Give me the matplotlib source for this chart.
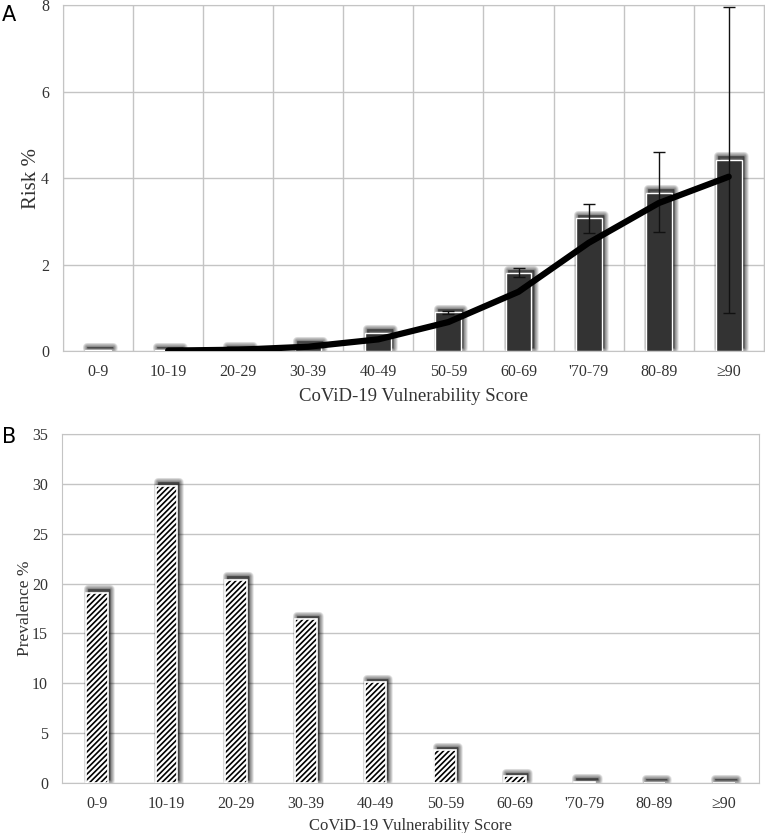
import numpy as np
import matplotlib
matplotlib.use('Agg')
import matplotlib.pyplot as plt
from matplotlib.transforms import ScaledTranslation

plt.rcParams['font.family'] = ['Liberation Serif', 'DejaVu Serif']
plt.rcParams['hatch.linewidth'] = 1.2

categories = ['0-9', '10-19', '20-29', '30-39', '40-49', '50-59', '60-69', "'70-79", '80-89', '\u226590']

# panel A: risk %
risk = [0.02, 0.02, 0.04, 0.14, 0.42, 0.9, 1.8, 3.07, 3.66, 4.42]
risk_lo = [np.nan, np.nan, np.nan, np.nan, np.nan, 0.86, 1.72, 2.72, 2.75, 0.88]
risk_hi = [np.nan, np.nan, np.nan, np.nan, np.nan, 0.93, 1.92, 3.4, 4.6, 7.95]
trend = [np.nan, 0.01, 0.03, 0.1, 0.27, 0.67, 1.37, 2.5, 3.42, 4.03]

# panel B: prevalence %
prevalence = [19.1, 29.8, 20.4, 16.4, 10.1, 3.3, 0.7, 0.15, 0.05, 0.05]

fig = plt.figure(figsize=(7.65, 8.33), dpi=100)
axA = fig.add_axes([0.0824, 0.5786, 0.916, 0.4154])
axB = fig.add_axes([0.081, 0.06, 0.911, 0.419])

x = np.arange(len(categories))
grid_c = '#c4c4c4'
txt_c = '#333333'


def shadow(ax, heights, width):
    # fake blurred drop shadow: many thin translucent bars, shifted up/right
    off = ScaledTranslation(1.5/72, 2.5/72, fig.dpi_scale_trans)
    for lw in np.linspace(6.5, 0.5, 10):
        ax.bar(x, heights, width, color='#000000', edgecolor='#000000',
               linewidth=lw, alpha=0.065, transform=ax.transData + off,
               zorder=2, joinstyle='round')


# ---- A ----
shadow(axA, risk, 0.37)
axA.bar(x, risk, 0.37, color='#333333', edgecolor='white', linewidth=1, zorder=3)
err = np.array(risk_hi) - np.array(risk_lo)
mid = (np.array(risk_hi) + np.array(risk_lo)) / 2
axA.errorbar(x, mid, yerr=err/2, fmt='none', ecolor='#111111', elinewidth=1,
             capsize=4, capthick=1, zorder=4)
axA.plot(x, trend, color='black', lw=4.5, solid_capstyle='round', zorder=5)

axA.set_xlim(-0.5, 9.5)
axA.set_ylim(0, 8)
axA.set_yticks([0, 2, 4, 6, 8])
axA.set_xticks(x)
axA.set_xticklabels(categories)
axA.set_xticks(np.arange(-0.5, 10, 1), minor=True)
axA.grid(True, which='minor', axis='x', color=grid_c, lw=1)
axA.grid(True, which='major', axis='y', color=grid_c, lw=1)
axA.set_axisbelow(True)
axA.tick_params(which='both', length=0, labelsize=11.5, colors=txt_c)
axA.tick_params(axis='x', pad=9)
axA.tick_params(axis='y', pad=10)
axA.set_xlabel('CoViD-19 Vulnerability Score', fontsize=13.5, color=txt_c, labelpad=6)
axA.set_ylabel('Risk %', fontsize=15, color=txt_c, labelpad=0)
for s in axA.spines.values():
    s.set_color(grid_c)

# ---- B ----
shadow(axB, prevalence, 0.31)
axB.bar(x, prevalence, 0.31, color='white', edgecolor='black', hatch='//////',
        linewidth=0, zorder=3)
axB.bar(x, prevalence, 0.31, fill=False, edgecolor='white', linewidth=1.2, zorder=4)

axB.set_xlim(-0.5, 9.5)
axB.set_ylim(0, 35)
axB.set_yticks(range(0, 36, 5))
axB.set_xticks(x)
axB.set_xticklabels(categories)
axB.grid(True, axis='y', color=grid_c, lw=1)
axB.set_axisbelow(True)
axB.tick_params(length=0, labelsize=11.5, colors=txt_c)
axB.tick_params(axis='x', pad=9)
axB.tick_params(axis='y', pad=10)
axB.set_xlabel('CoViD-19 Vulnerability Score', fontsize=12, color=txt_c, labelpad=5)
axB.set_ylabel('Prevalence %', fontsize=12.5, color=txt_c, labelpad=-1)
for s in axB.spines.values():
    s.set_color(grid_c)

fig.text(0.003, 0.982, 'A', fontsize=15, family='DejaVu Sans', va='center')
fig.text(0.003, 0.475, 'B', fontsize=15, family='DejaVu Sans', va='center')

fig.savefig('out.png', dpi=100)
